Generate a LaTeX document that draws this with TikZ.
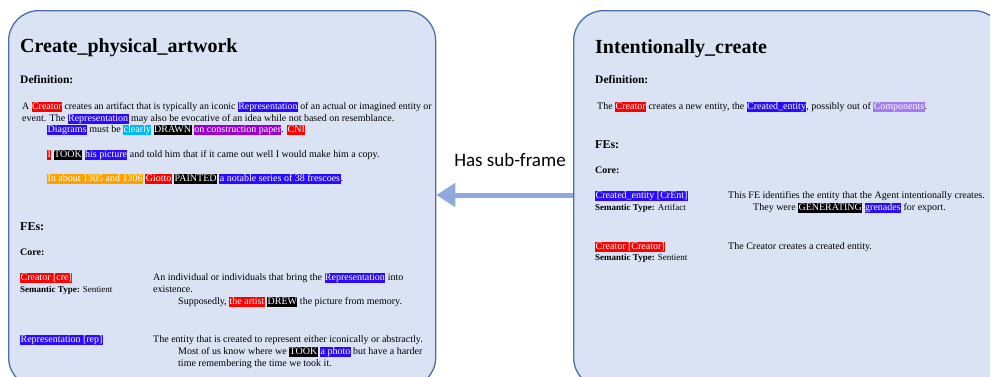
\documentclass[tikz,border=0pt]{standalone}
\usepackage{fontspec}
\setmainfont{Liberation Serif}
\newfontfamily\calibri{Carlito}
\usetikzlibrary{arrows.meta}
\definecolor{boxfill}{HTML}{DAE3F3}
\definecolor{boxdraw}{HTML}{4A6EAE}
\definecolor{arrowc}{HTML}{8EA9DB}
\definecolor{hred}{HTML}{FF0000}
\definecolor{hblue}{HTML}{2A0BFF}
\definecolor{hcyan}{HTML}{00B8F5}
\definecolor{hpurple}{HTML}{9A00CC}
\definecolor{horange}{HTML}{FFA200}
\definecolor{hlav}{HTML}{A57BF2}
\newcommand\hlt[2]{{\setlength{\fboxsep}{0.4pt}\colorbox{#1}{\color{white}\vphantom{Ag}#2}}}
\tikzset{
  framebox/.style={draw=boxdraw, line width=1.3pt, fill=boxfill, rounded corners=30pt, inner sep=0pt},
  txt/.style={anchor=base west, inner sep=0pt, font=\fontsize{10}{12}\selectfont},
  smalltxt/.style={anchor=base west, inner sep=0pt, font=\fontsize{9}{11}\selectfont},
  ttl/.style={anchor=base west, inner sep=0pt, font=\fontsize{20}{24}\selectfont\bfseries},
  hdr/.style={anchor=base west, inner sep=0pt, font=\fontsize{11.5}{14}\selectfont\bfseries},
  fes/.style={anchor=base west, inner sep=0pt, font=\fontsize{12}{14}\selectfont\bfseries},
  core/.style={anchor=base west, inner sep=0pt, font=\fontsize{10}{12}\selectfont\bfseries},
  bigarrow/.style={draw=arrowc, line width=5pt, -{Triangle[length=19pt,width=23pt]}},
  lbl/.style={inner sep=0pt, font=\calibri\fontsize{19}{22}\selectfont}
}
\begin{document}
\begin{tikzpicture}[x=1pt,y=-1pt]
\path[use as bounding box] (0,0) rectangle (990,376);
\clip (0,0) rectangle (990,376);
\fill[white] (0,0) rectangle (990,376);
% frames
\node[framebox, minimum width=427pt, minimum height=377pt, anchor=north west] (left) at (8,10) {};
\node[framebox, minimum width=430pt, minimum height=377pt, anchor=north west] (right) at (573,10) {};
% left content
\node[ttl] (lt) at (20,52) {Create\_physical\_artwork};
\node[hdr] (ld) at (20,83) {Definition:};
\node[txt, font=\fontsize{9.85}{12}\selectfont] (l1) at (22,109) {A \hlt{hred}{Creator} creates an artifact that is typically an iconic \hlt{hblue}{Representation} of an actual or imagined entity or};
\node[txt] (l2) at (22,121) {event. The \hlt{hblue}{Representation} may also be evocative of an idea while not based on resemblance.};
\node[txt] (l3) at (47,132) {\hlt{hblue}{Diagrams} must be \hlt{hcyan}{clearly} \hlt{black}{DRAWN} \hlt{hpurple}{on construction paper}. \hlt{hred}{CNI}};
\node[txt] (l4) at (47,157) {\hlt{hred}{I} \hlt{black}{TOOK} \hlt{hblue}{his picture} and told him that if it came out well I would make him a copy.};
\node[txt] (l5) at (47,181) {\hlt{horange}{In about 1305 and 1306} \hlt{hred}{Giotto} \hlt{black}{PAINTED} \hlt{hblue}{a notable series of 38 frescoes}.};
\node[fes] (lf) at (20,230) {FEs:};
\node[core] (lc) at (20,255) {Core:};
\node[txt] (lcre) at (20,280) {\hlt{hred}{Creator [cre]}};
\node[smalltxt] (lcres) at (20,292) {\textbf{Semantic Type:} Sentient};
\node[txt] (lcd1) at (153,280) {An individual or individuals that bring the \hlt{hblue}{Representation} into};
\node[txt] (lcd2) at (153,292) {existence.};
\node[txt] (lcd3) at (178,304) {Supposedly, \hlt{hred}{the artist} \hlt{black}{DREW} the picture from memory.};
\node[txt] (lrep) at (20,342) {\hlt{hblue}{Representation [rep]}};
\node[txt] (lrd1) at (153,342) {The entity that is created to represent either iconically or abstractly.};
\node[txt] (lrd2) at (178,354) {Most of us know where we \hlt{black}{TOOK} \hlt{hblue}{a photo} but have a harder};
\node[txt] (lrd3) at (178,366) {time remembering the time we took it.};
% right content
\node[ttl] (rt) at (595,53) {Intentionally\_create};
\node[hdr] (rd) at (595,83.5) {Definition:};
\node[txt] (r1) at (597,109) {The \hlt{hred}{Creator} creates a new entity, the \hlt{hblue}{Created\_entity}, possibly out of \hlt{hlav}{Components}.};
\node[fes] (rf) at (595,148) {FEs:};
\node[core] (rc) at (595,173) {Core:};
\node[txt] (rce) at (595,198) {\hlt{hblue}{Created\_entity [CrEnt]}};
\node[smalltxt] (rces) at (595,210.5) {\textbf{Semantic Type:} Artifact};
\node[txt] (rced1) at (728,198) {This FE identifies the entity that the Agent intentionally creates.};
\node[txt] (rced2) at (753,210.5) {They were \hlt{black}{GENERATING} \hlt{hblue}{grenades} for export.};
\node[txt] (rcr) at (595,249) {\hlt{hred}{Creator [Creator]}};
\node[smalltxt] (rcrs) at (595,260.5) {\textbf{Semantic Type:} Sentient};
\node[txt] (rcrd) at (728,249) {The Creator creates a created entity.};
% connector
\coordinate (ay) at (0,195);
\draw[bigarrow] (right.west |- ay) -- (left.east |- ay);
\node[lbl] (hsf) at (510,160) {Has sub-frame};
\end{tikzpicture}
\end{document}
